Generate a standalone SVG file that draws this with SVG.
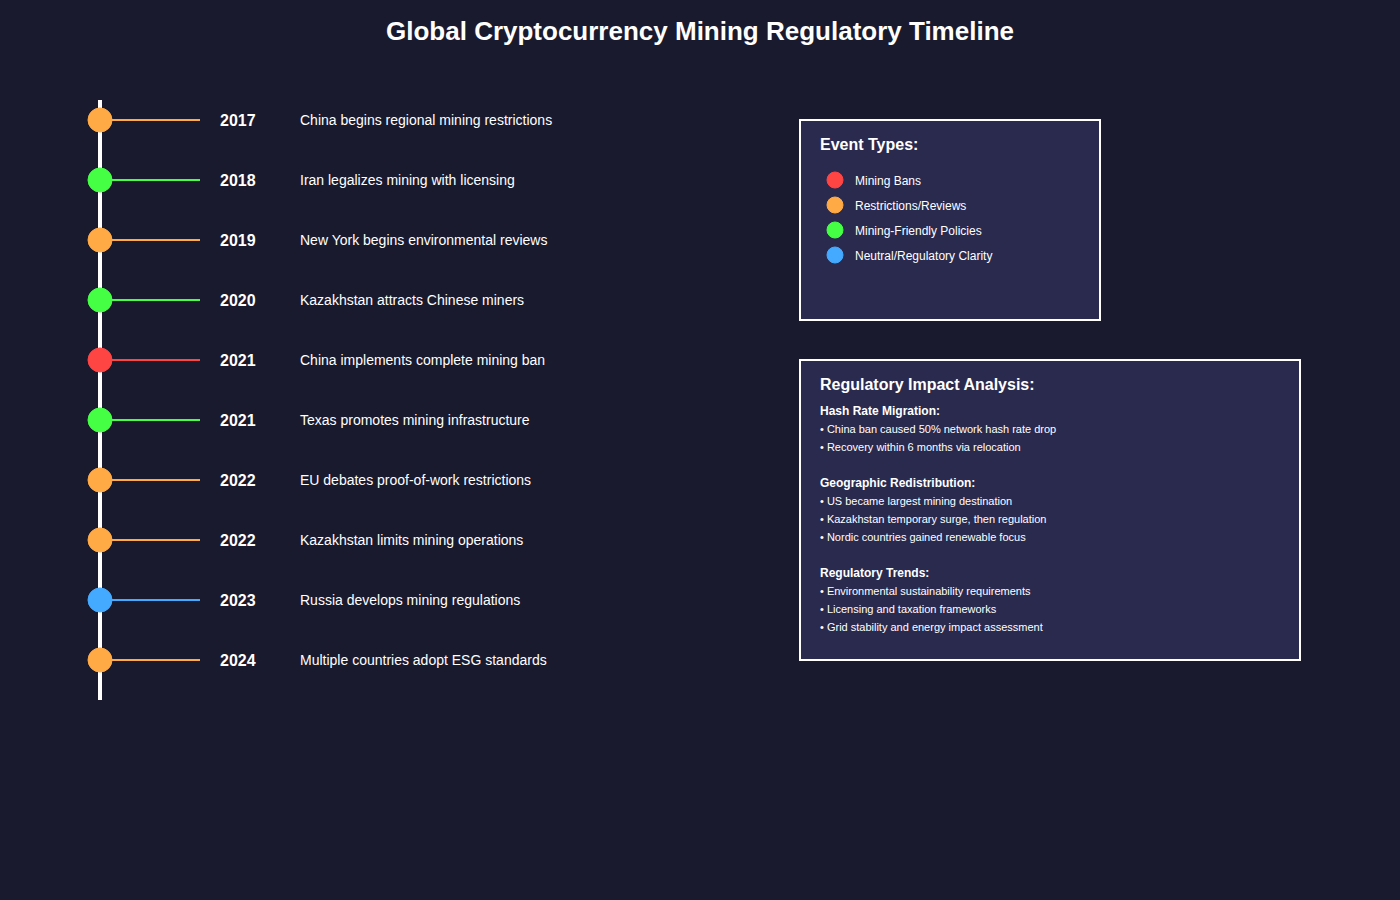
<svg xmlns="http://www.w3.org/2000/svg" width="1400" height="900" viewBox="0 0 1400 900">
<style>
text { font-family: "Liberation Sans", Arial, sans-serif; fill: #ffffff; }
.title { font-size: 26px; font-weight: bold; }
.year { font-size: 16px; font-weight: bold; }
.desc { font-size: 14px; }
.box { fill: #2a2a4e; stroke: #ffffff; stroke-width: 2; }
.bh { font-size: 16px; font-weight: bold; }
.leg { font-size: 12px; }
.sub { font-size: 12px; font-weight: bold; }
.bul { font-size: 11px; }
.ban { fill: #ff4444; stroke: #ff4444; }
.res { fill: #ffaa44; stroke: #ffaa44; }
.fri { fill: #44ff44; stroke: #44ff44; }
.neu { fill: #44aaff; stroke: #44aaff; }
.tick { stroke-width: 2; }
</style>
<rect width="1400" height="900" fill="#1a1a2e"/>
<text class="title" x="700" y="40" text-anchor="middle">Global Cryptocurrency Mining Regulatory Timeline</text>
<g id="connectors">
<line x1="100" y1="100" x2="100" y2="700" stroke="#ffffff" stroke-width="4"/>
<line class="tick res" x1="100" y1="120" x2="200" y2="120"/>
<line class="tick fri" x1="100" y1="180" x2="200" y2="180"/>
<line class="tick res" x1="100" y1="240" x2="200" y2="240"/>
<line class="tick fri" x1="100" y1="300" x2="200" y2="300"/>
<line class="tick ban" x1="100" y1="360" x2="200" y2="360"/>
<line class="tick fri" x1="100" y1="420" x2="200" y2="420"/>
<line class="tick res" x1="100" y1="480" x2="200" y2="480"/>
<line class="tick res" x1="100" y1="540" x2="200" y2="540"/>
<line class="tick neu" x1="100" y1="600" x2="200" y2="600"/>
<line class="tick res" x1="100" y1="660" x2="200" y2="660"/>
</g>
<g id="e2017"><circle class="res" cx="100" cy="120" r="12"/><text class="year" x="220" y="126">2017</text><text class="desc" x="300" y="125">China begins regional mining restrictions</text></g>
<g id="e2018"><circle class="fri" cx="100" cy="180" r="12"/><text class="year" x="220" y="186">2018</text><text class="desc" x="300" y="185">Iran legalizes mining with licensing</text></g>
<g id="e2019"><circle class="res" cx="100" cy="240" r="12"/><text class="year" x="220" y="246">2019</text><text class="desc" x="300" y="245">New York begins environmental reviews</text></g>
<g id="e2020"><circle class="fri" cx="100" cy="300" r="12"/><text class="year" x="220" y="306">2020</text><text class="desc" x="300" y="305">Kazakhstan attracts Chinese miners</text></g>
<g id="e2021a"><circle class="ban" cx="100" cy="360" r="12"/><text class="year" x="220" y="366">2021</text><text class="desc" x="300" y="365">China implements complete mining ban</text></g>
<g id="e2021b"><circle class="fri" cx="100" cy="420" r="12"/><text class="year" x="220" y="426">2021</text><text class="desc" x="300" y="425">Texas promotes mining infrastructure</text></g>
<g id="e2022a"><circle class="res" cx="100" cy="480" r="12"/><text class="year" x="220" y="486">2022</text><text class="desc" x="300" y="485">EU debates proof-of-work restrictions</text></g>
<g id="e2022b"><circle class="res" cx="100" cy="540" r="12"/><text class="year" x="220" y="546">2022</text><text class="desc" x="300" y="545">Kazakhstan limits mining operations</text></g>
<g id="e2023"><circle class="neu" cx="100" cy="600" r="12"/><text class="year" x="220" y="606">2023</text><text class="desc" x="300" y="605">Russia develops mining regulations</text></g>
<g id="e2024"><circle class="res" cx="100" cy="660" r="12"/><text class="year" x="220" y="666">2024</text><text class="desc" x="300" y="665">Multiple countries adopt ESG standards</text></g>
<g id="legend">
<rect class="box" x="800" y="120" width="300" height="200"/>
<text class="bh" x="820" y="150">Event Types:</text>
<circle class="ban" cx="835" cy="180" r="8"/><text class="leg" x="855" y="185">Mining Bans</text>
<circle class="res" cx="835" cy="205" r="8"/><text class="leg" x="855" y="210">Restrictions/Reviews</text>
<circle class="fri" cx="835" cy="230" r="8"/><text class="leg" x="855" y="235">Mining-Friendly Policies</text>
<circle class="neu" cx="835" cy="255" r="8"/><text class="leg" x="855" y="260">Neutral/Regulatory Clarity</text>
</g>
<g id="impact">
<rect class="box" x="800" y="360" width="500" height="300"/>
<text class="bh" x="820" y="390">Regulatory Impact Analysis:</text>
<text class="sub" x="820" y="415">Hash Rate Migration:</text>
<text class="bul" x="820" y="433">• China ban caused 50% network hash rate drop</text>
<text class="bul" x="820" y="451">• Recovery within 6 months via relocation</text>
<text class="sub" x="820" y="487">Geographic Redistribution:</text>
<text class="bul" x="820" y="505">• US became largest mining destination</text>
<text class="bul" x="820" y="523">• Kazakhstan temporary surge, then regulation</text>
<text class="bul" x="820" y="541">• Nordic countries gained renewable focus</text>
<text class="sub" x="820" y="577">Regulatory Trends:</text>
<text class="bul" x="820" y="595">• Environmental sustainability requirements</text>
<text class="bul" x="820" y="613">• Licensing and taxation frameworks</text>
<text class="bul" x="820" y="631">• Grid stability and energy impact assessment</text>
</g>
</svg>
